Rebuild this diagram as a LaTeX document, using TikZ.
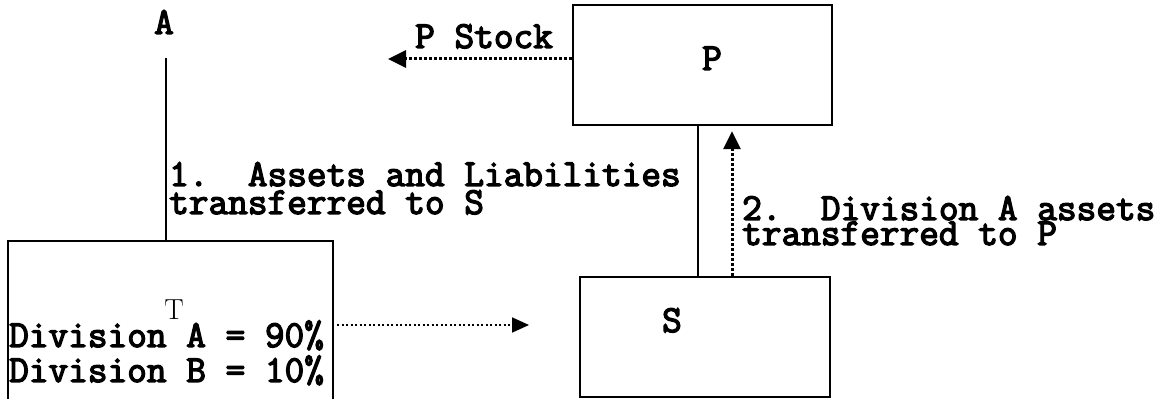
\documentclass[tikz,border=0pt]{standalone}
\usepackage{fontspec}
\usetikzlibrary{arrows.meta}
\newfontfamily\monob{Latin Modern Mono}[FakeBold=3.5]
\newcommand\mylbl{\fontsize{38.2}{40}\selectfont\monob}
\newcommand\mytee{\fontsize{29}{32}\selectfont\rmfamily\mdseries}
\tikzset{
  box/.style={draw, line width=2.3pt, inner sep=0pt},
  lbl/.style={font=\mylbl, anchor=base west, inner sep=0pt},
  letter/.style={font=\mylbl, anchor=base, inner sep=0pt},
  link/.style={line width=2.3pt},
  dotthin/.style={line width=1.8pt, dash pattern=on 2pt off 2.5pt, -{Triangle[length=17pt,width=15pt]}},
  dotthick/.style={line width=3pt, dash pattern=on 3pt off 2pt, -{Triangle[length=18pt,width=17pt]}},
}
\begin{document}
\begin{tikzpicture}[x=1pt,y=1pt]
\useasboundingbox (0,0) rectangle (1165,399);
\clip (0,0) rectangle (1165,399);
\fill[white] (0,0) rectangle (1165,399);
% boxes
\node[box, minimum width=325pt, minimum height=200pt] (Tbox) at (170.5,58) {};
\node[box, minimum width=250pt, minimum height=120pt] (Sbox) at (705,62) {};
\node[box, minimum width=259pt, minimum height=120pt] (Pbox) at (702.5,334) {};
% letters
\node[letter] (Alabel) at (164,365) {A};
\node[letter] (Plabel) at (712,329) {P};
\node[letter] (Slabel) at (672,67) {S};
\node[font=\mytee, anchor=base, inner sep=0pt] (Tlabel) at (174,79) {T};
% texts
\node[lbl] (divA) at (9,52) {Division A = 90\%};
\node[lbl] (divB) at (9,17) {Division B = 10\%};
\node[lbl] (pstock) at (415,351) {P Stock};
\node[lbl] (l1a) at (169,213) {1.\ \ Assets and Liabilities};
\node[lbl] (l1b) at (169,185) {transferred to S};
\node[lbl] (l2a) at (742,179) {2.\ \ Division A assets};
\node[lbl] (l2b) at (742,154) {transferred to P};
% connectors
\coordinate (Atop) at (166,341);
\draw[link] (Atop) -- (Atop |- Tbox.north);
\coordinate (mid) at (698,200);
\draw[link] (mid |- Sbox.north) -- (mid |- Pbox.south);
\coordinate (upx) at (732,200);
\draw[dotthick, shorten >=5pt] (upx |- Sbox.north) -- (upx |- Pbox.south);
\coordinate (pend) at (388,340);
\draw[dotthick] (Pbox.west |- pend) -- (pend);
\coordinate (tend) at (529,74);
\draw[dotthin, shorten <=3pt] (Tbox.east |- tend) -- (tend);
\end{tikzpicture}
\end{document}
